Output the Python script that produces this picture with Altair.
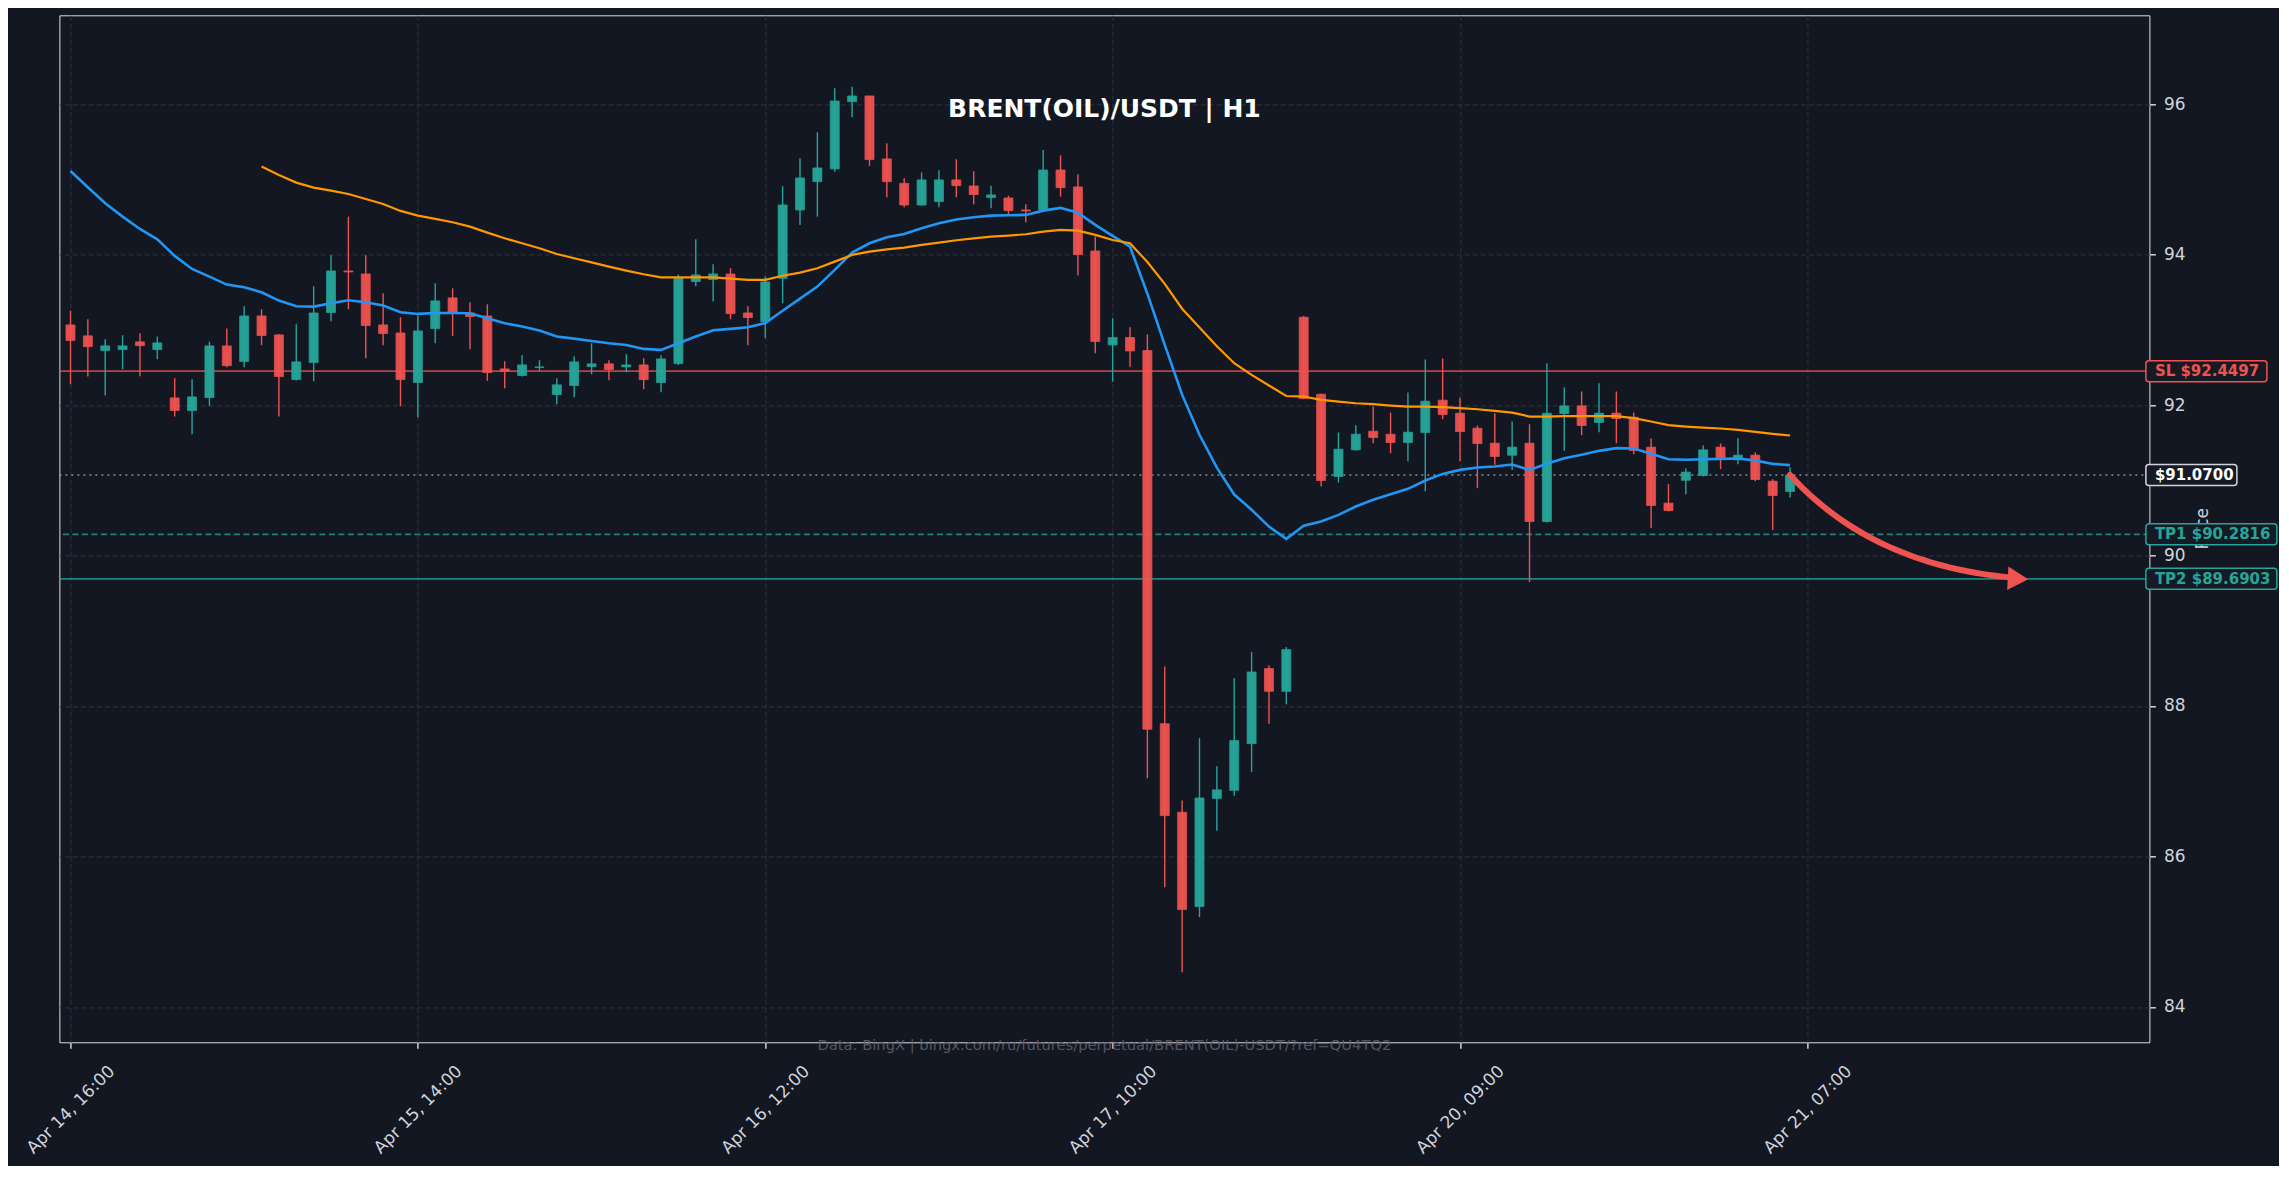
import altair as alt
import pandas as pd

# ---------------- data ----------------
opens = [93.065, 92.919, 92.724, 92.737, 92.839, 92.737, 92.095, 91.927, 92.099, 92.786,
         92.578, 93.184, 92.932, 92.338, 92.564, 93.229, 93.782, 93.742, 93.065, 92.958,
         92.299, 93.016, 93.424, 93.224, 93.184, 92.480, 92.392, 92.498, 92.139, 92.259,
         92.511, 92.547, 92.507, 92.533, 92.299, 92.551, 93.641, 93.667, 93.742, 93.224,
         93.109, 93.685, 94.593, 94.969, 95.138, 96.032, 96.108, 95.271, 94.947, 94.659,
         94.704, 94.992, 94.912, 94.757, 94.752, 94.593, 94.593, 95.124, 94.899, 94.048,
         92.799, 92.898, 92.724, 87.764, 86.588, 85.334, 86.772, 86.879, 87.500, 88.497,
         88.195, 93.167, 92.144, 91.050, 91.404, 91.652, 91.612, 91.502, 91.634, 92.064,
         91.891, 91.692, 91.493, 91.333, 91.493, 90.452, 91.887, 91.989, 91.768, 91.892,
         91.838, 91.440, 90.696, 91.000, 91.063, 91.440, 91.272, 91.334, 90.988, 90.851]

highs = [93.255, 93.140, 92.874, 92.927, 92.954, 92.910, 92.356, 92.343, 92.843, 93.016,
         93.313, 93.273, 92.945, 93.074, 93.579, 93.990, 94.504, 93.990, 93.486, 93.167,
         93.189, 93.618, 93.552, 93.366, 93.339, 92.582, 92.662, 92.595, 92.356, 92.648,
         92.821, 92.595, 92.675, 92.622, 92.662, 93.734, 94.203, 93.871, 93.818, 93.313,
         93.707, 94.907, 95.279, 95.625, 96.210, 96.232, 96.108, 95.479, 95.014, 95.093,
         95.120, 95.266, 95.107, 94.916, 94.783, 94.668, 95.390, 95.319, 95.067, 94.239,
         93.154, 93.034, 92.937, 88.525, 86.745, 87.573, 87.198, 88.368, 88.716, 88.542,
         88.783, 93.185, 92.150, 91.634, 91.732, 91.980, 91.900, 92.166, 92.604, 92.618,
         92.100, 91.727, 91.891, 91.781, 91.745, 92.556, 92.233, 92.180, 92.290, 92.180,
         91.901, 91.555, 90.948, 91.161, 91.462, 91.489, 91.559, 91.373, 91.015, 91.174]

lows = [92.276, 92.378, 92.126, 92.476, 92.383, 92.609, 91.847, 91.612, 91.989, 92.502,
        92.502, 92.795, 91.847, 92.325, 92.316, 93.114, 93.273, 92.622, 92.795, 91.984,
        91.838, 92.821, 92.919, 92.742, 92.321, 92.223, 92.380, 92.449, 92.011, 92.104,
        92.409, 92.330, 92.436, 92.210, 92.170, 92.533, 93.579, 93.375, 93.140, 92.795,
        92.888, 93.353, 94.393, 94.504, 95.102, 95.824, 95.178, 94.761, 94.628, 94.651,
        94.628, 94.761, 94.668, 94.615, 94.527, 94.429, 94.571, 94.770, 93.720, 92.689,
        92.310, 92.510, 87.041, 85.591, 84.460, 85.194, 86.341, 86.806, 87.125, 87.764,
        88.021, 92.077, 90.917, 90.970, 91.395, 91.493, 91.360, 91.254, 90.855, 91.812,
        91.254, 90.895, 91.205, 91.138, 89.646, 90.440, 91.391, 91.599, 91.639, 91.493,
        91.347, 90.364, 90.585, 90.815, 91.050, 91.148, 91.214, 90.988, 90.337, 90.771]

closes = [92.857, 92.777, 92.786, 92.786, 92.790, 92.826, 91.927, 92.108, 92.786, 92.524,
          93.184, 92.923, 92.378, 92.573, 93.224, 93.782, 93.769, 93.056, 92.950, 92.338,
          92.985, 93.384, 93.224, 93.176, 92.431, 92.445, 92.533, 92.507, 92.268, 92.573,
          92.547, 92.471, 92.533, 92.338, 92.613, 93.694, 93.729, 93.742, 93.215, 93.162,
          93.636, 94.659, 95.018, 95.151, 96.041, 96.108, 95.262, 94.969, 94.659, 94.992,
          94.992, 94.916, 94.797, 94.792, 94.584, 94.580, 95.124, 94.890, 94.000, 92.844,
          92.897, 92.719, 87.691, 86.543, 85.294, 86.778, 86.885, 87.540, 88.452, 88.195,
          88.749, 92.086, 90.997, 91.413, 91.612, 91.568, 91.502, 91.639, 92.051, 91.874,
          91.648, 91.488, 91.316, 91.440, 90.452, 91.891, 91.989, 91.728, 91.892, 91.821,
          91.396, 90.665, 90.598, 91.108, 91.404, 91.303, 91.334, 91.010, 90.798, 91.070]

ema_fast = [95.111, 94.894, 94.681, 94.504, 94.340, 94.203, 93.982, 93.809, 93.707, 93.601,
            93.565, 93.499, 93.388, 93.313, 93.308, 93.353, 93.393, 93.366, 93.322, 93.233,
            93.211, 93.224, 93.224, 93.220, 93.153, 93.087, 93.043, 92.990, 92.910, 92.883,
            92.852, 92.821, 92.799, 92.746, 92.733, 92.821, 92.910, 92.994, 93.012, 93.034,
            93.089, 93.253, 93.415, 93.574, 93.796, 94.026, 94.150, 94.230, 94.274, 94.349,
            94.416, 94.465, 94.496, 94.518, 94.522, 94.527, 94.584, 94.620, 94.558, 94.394,
            94.248, 94.106, 93.480, 92.800, 92.136, 91.605, 91.168, 90.810, 90.608, 90.384,
            90.222, 90.395, 90.452, 90.540, 90.651, 90.740, 90.815, 90.886, 90.997, 91.085,
            91.138, 91.169, 91.183, 91.209, 91.138, 91.220, 91.292, 91.338, 91.391, 91.427,
            91.422, 91.351, 91.280, 91.272, 91.280, 91.285, 91.289, 91.263, 91.218, 91.201]

ema_slow_start = 11
ema_slow = [95.169, 95.058, 94.956, 94.890, 94.850, 94.805, 94.739, 94.672, 94.580,
            94.517, 94.474, 94.429, 94.371, 94.292, 94.216, 94.150, 94.083, 94.008, 93.951,
            93.897, 93.840, 93.787, 93.738, 93.698, 93.698, 93.698, 93.698, 93.680, 93.663,
            93.663, 93.718, 93.760, 93.818, 93.906, 93.995, 94.039, 94.070, 94.092, 94.128,
            94.159, 94.190, 94.216, 94.239, 94.252, 94.270, 94.305, 94.327, 94.318, 94.261,
            94.194, 94.150, 93.900, 93.610, 93.280, 93.030, 92.780, 92.556, 92.400, 92.260,
            92.120, 92.113, 92.068, 92.046, 92.024, 92.011, 91.993, 91.980, 91.980, 91.971,
            91.958, 91.944, 91.922, 91.900, 91.847, 91.847, 91.852, 91.852, 91.852, 91.852,
            91.825, 91.781, 91.732, 91.714, 91.701, 91.688, 91.670, 91.644, 91.617, 91.595]

tick_pos = [0, 20, 40, 60, 80, 100]
tick_labels = ["Apr 14, 16:00", "Apr 15, 14:00", "Apr 16, 12:00",
               "Apr 17, 10:00", "Apr 20, 09:00", "Apr 21, 07:00"]
price_ticks = [84, 86, 88, 90, 92, 94, 96]

stop_loss = 92.4497
take_profit_1 = 90.2816
take_profit_2 = 89.6903
last_price = 91.07

title_text = "BRENT(OIL)/USDT | H1"
source_text = "Data: BingX | bingx.com/ru/futures/perpetual/BRENT(OIL)-USDT/?ref=QU4TQ2"
y_title = "Price"

# ---------------- styling ----------------
W, H = 2090, 1027
BG = "#131722"
UP = "#26a69a"
DOWN = "#ef5350"
FAST = "#2196f3"
SLOW = "#ff9800"
AXC = "#d1d4dc"
GRID = "#2a2e39"
FONT = "DejaVu Sans"

n = len(opens)
idx = list(range(n))
candles = pd.DataFrame({"i": idx, "open": opens, "high": highs,
                        "low": lows, "close": closes})
candles["dir"] = ["up" if c >= o else "down" for o, c in zip(opens, closes)]

fast_df = pd.DataFrame({"i": idx, "v": ema_fast})
slow_df = pd.DataFrame({"i": list(range(ema_slow_start, ema_slow_start + len(ema_slow))),
                        "v": ema_slow})

xs = alt.Scale(domain=[-0.35, 119.4], nice=False, zero=False)
ys = alt.Scale(domain=[83.53, 97.18], nice=False, zero=False)

label_expr = ""
for p, lab in zip(tick_pos, tick_labels):
    label_expr += f"datum.value == {p} ? '{lab}' : "
label_expr += "''"

x_axis = alt.Axis(values=tick_pos, labelExpr=label_expr, labelAngle=315,
                  labelAlign="center", labelBaseline="middle", labelPadding=61,
                  labelFontSize=17, labelColor=AXC, labelFont=FONT,
                  labelOverlap=False, labelFlush=False,
                  tickSize=6, tickWidth=1.5, tickColor=AXC,
                  grid=True, gridColor=GRID, gridDash=[5, 3], gridWidth=1.2,
                  domain=False, title=None)
y_axis = alt.Axis(orient="right", values=price_ticks, format="d", labelFontSize=17,
                  labelColor=AXC, labelFont=FONT, labelPadding=8,
                  tickSize=6, tickWidth=1.5, tickColor=AXC,
                  grid=True, gridColor=GRID, gridDash=[5, 3], gridWidth=1.2,
                  domain=False, title=None)

dir_scale = alt.Scale(domain=["up", "down"], range=[UP, DOWN])

wicks = alt.Chart(candles).mark_rule(strokeWidth=1.4).encode(
    x=alt.X("i:Q", scale=xs, axis=x_axis),
    y=alt.Y("low:Q", scale=ys, axis=y_axis),
    y2="high:Q",
    color=alt.Color("dir:N", scale=dir_scale, legend=None),
)

bodies = alt.Chart(candles).mark_bar(width=9, strokeWidth=0.8, opacity=0.95).encode(
    x=alt.X("i:Q", scale=xs),
    y=alt.Y("open:Q", scale=ys),
    y2="close:Q",
    color=alt.Color("dir:N", scale=dir_scale, legend=None),
    stroke=alt.Stroke("dir:N", scale=dir_scale, legend=None),
)

fast_line = alt.Chart(fast_df).mark_line(color=FAST, strokeWidth=2.6).encode(
    x=alt.X("i:Q", scale=xs), y=alt.Y("v:Q", scale=ys))
slow_line = alt.Chart(slow_df).mark_line(color=SLOW, strokeWidth=2.2).encode(
    x=alt.X("i:Q", scale=xs), y=alt.Y("v:Q", scale=ys))


def level(value, color, opacity, dash=None, width=1.8):
    kw = dict(color=color, opacity=opacity, strokeWidth=width)
    if dash:
        kw["strokeDash"] = dash
    return alt.Chart(pd.DataFrame({"y": [value]})).mark_rule(**kw).encode(
        y=alt.Y("y:Q", scale=ys))


sl_rule = level(stop_loss, DOWN, 0.75)
cur_rule = level(last_price, "#b2b5be", 0.75, dash=[2, 4], width=1.5)
tp1_rule = level(take_profit_1, UP, 0.75, dash=[6, 3.5])
tp2_rule = level(take_profit_2, UP, 0.75)

# curved arrow from last close toward TP2
p0 = (n - 1, last_price)
ctrl = (n - 1 + 4.95, take_profit_2 + 0.12)
p2 = (n - 1 + 13.7, take_profit_2)
arrow_pts = []
steps = 40
for k in range(steps + 1):
    t = 0.93 * k / steps
    a, b, c = (1 - t) ** 2, 2 * (1 - t) * t, t ** 2
    arrow_pts.append({"i": a * p0[0] + b * ctrl[0] + c * p2[0],
                      "v": a * p0[1] + b * ctrl[1] + c * p2[1], "o": k})
arrow_line = alt.Chart(pd.DataFrame(arrow_pts)).mark_line(
    color=DOWN, strokeWidth=6, strokeCap="round").encode(
    x=alt.X("i:Q", scale=xs), y=alt.Y("v:Q", scale=ys), order="o:Q")
arrow_head = alt.Chart(pd.DataFrame({"i": [p2[0]], "v": [p2[1]]})).mark_point(
    shape="triangle-right", filled=True, size=560, color=DOWN, opacity=1,
    angle=3, xOffset=-10).encode(
    x=alt.X("i:Q", scale=xs), y=alt.Y("v:Q", scale=ys))

# texts
title = alt.Chart(pd.DataFrame({"t": [title_text]})).mark_text(
    font=FONT, fontSize=25, fontWeight="bold", color="#ffffff",
    align="center", baseline="middle").encode(
    text="t:N", x=alt.value(W / 2), y=alt.value(94))
source = alt.Chart(pd.DataFrame({"t": [source_text]})).mark_text(
    font=FONT, fontSize=14.7, color="#60636e", opacity=0.85,
    align="center", baseline="middle").encode(
    text="t:N", x=alt.value(W / 2), y=alt.value(1031))
ytitle = alt.Chart(pd.DataFrame({"t": [y_title]})).mark_text(
    font=FONT, fontSize=17, color=AXC, angle=270,
    align="center", baseline="middle").encode(
    text="t:N", x=alt.value(W + 54), y=alt.value(H / 2))

# price tags on the right edge
tags = [
    (f"SL ${stop_loss:.4f}", stop_loss, DOWN, DOWN),
    (f"${last_price:.4f}", last_price, AXC, "#ffffff"),
    (f"TP1 ${take_profit_1:.4f}", take_profit_1, UP, UP),
    (f"TP2 ${take_profit_2:.4f}", take_profit_2, UP, UP),
]
tag_layers = []
for txt, val, edge, tcol in tags:
    d = pd.DataFrame({"y": [val], "t": [txt]})
    box_w = 10 * len(txt) + 11
    box = alt.Chart(d).mark_rect(height=21, fill="#161a25", stroke=edge,
                                 strokeWidth=1.5, cornerRadius=3).encode(
        x=alt.value(W - 3.5), x2=alt.value(W - 3.5 + box_w),
        y=alt.Y("y:Q", scale=ys))
    lab = alt.Chart(d).mark_text(font=FONT, fontSize=15, fontWeight="bold",
                                 color=tcol, align="left", baseline="middle").encode(
        x=alt.value(W + 5.5), y=alt.Y("y:Q", scale=ys), text="t:N")
    tag_layers += [box, lab]

chart = alt.layer(
    sl_rule, cur_rule, tp1_rule, tp2_rule,
    wicks, bodies, fast_line, slow_line,
    arrow_line, arrow_head,
    title, source, ytitle,
    *tag_layers,
).properties(
    width=W, height=H,
    autosize=alt.AutoSizeParams(type="none"),
    padding={"left": 51.4, "top": 7.3, "right": 130, "bottom": 124},
    background=BG,
).configure_view(
    stroke="#d9d9d9", strokeWidth=1.5, fill=BG,
).configure(font=FONT)

chart.save("out.html", embed_options={"renderer": "svg", "actions": False})
